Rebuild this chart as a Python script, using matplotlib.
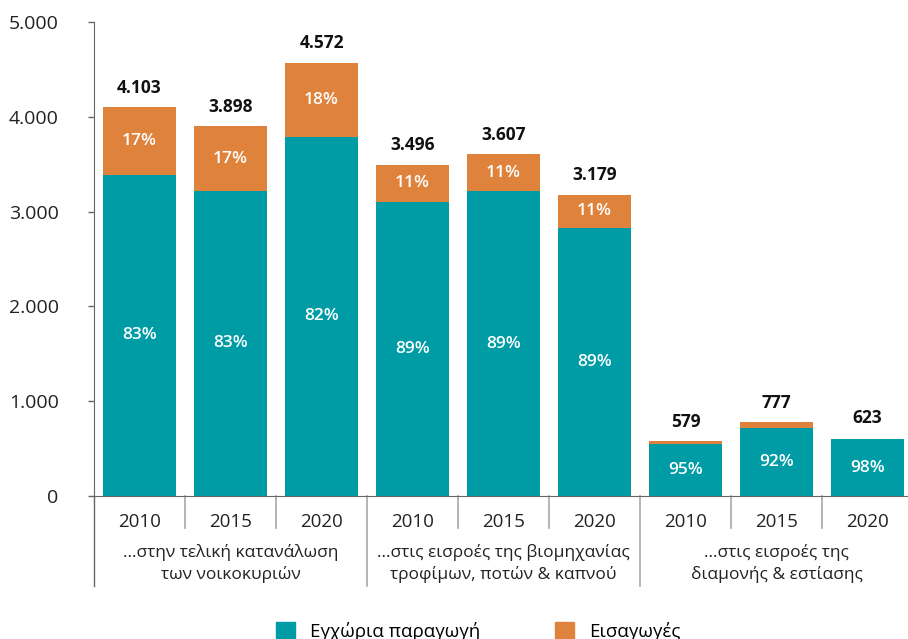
"""Stacked bars: domestic production vs imports, three uses, 2010/2015/2020."""
import matplotlib
matplotlib.use("Agg")
from matplotlib import pyplot as plt
from matplotlib.patches import Patch
import numpy as np

plt.rcParams["font.family"] = ["Open Sans", "DejaVu Sans"]

years = ["2010", "2015", "2020"] * 3
groups = ["...στην τελική κατανάλωση\nτων νοικοκυριών",
          "...στις εισροές της βιομηχανίας\nτροφίμων, ποτών & καπνού",
          "...στις εισροές της\nδιαμονής & εστίασης"]
domestic = [3390, 3220, 3790, 3100, 3215, 2830, 552, 717, 601]
imports = [713, 678, 782, 396, 392, 349, 27, 60, 3]
totals = [4103, 3898, 4572, 3496, 3607, 3179, 579, 777, 623]
dom_pct = ["83%", "83%", "82%", "89%", "89%", "89%", "95%", "92%", "98%"]
imp_pct = ["17%", "17%", "18%", "11%", "11%", "11%", "", "", ""]
legend_labels = ["Εγχώρια παραγωγή", "Εισαγωγές"]

teal = "#009ca6"
orange = "#df823b"
gray = "#666666"
light = "#a8a8a8"

fig = plt.figure(figsize=(9.08, 6.39), dpi=100)
ax = fig.add_axes([94 / 908, 143 / 639, 819 / 908, 474 / 639])

x = np.arange(len(years))
ax.bar(x, domestic, width=0.8, color=teal)
ax.bar(x, imports, width=0.8, bottom=domestic, color=orange)

ax.set_xlim(-0.5, len(years) - 0.5)
ax.set_ylim(0, 5000)
ax.set_yticks(np.arange(0, 5001, 1000))
ax.set_yticklabels([f"{v:,}".replace(",", ".") for v in range(0, 5001, 1000)],
                   fontsize=14, color="#222222")
ax.tick_params(axis="y", length=4.5, width=1, color=gray, pad=21)
ax.set_xticks([])

for s in ["top", "right"]:
    ax.spines[s].set_visible(False)
ax.spines["left"].set_color(gray)
ax.spines["bottom"].set_color(gray)
ax.spines["left"].set_bounds(0, 5000)

# labels inside and above the bars
for i in x:
    ax.text(i, totals[i] + 110, f"{totals[i]:,}".replace(",", "."),
            ha="center", va="bottom", fontsize=12.5, fontweight="bold",
            color="#111111")
    ax.text(i, domestic[i] / 2, dom_pct[i], ha="center", va="center",
            fontsize=12.5, fontweight="semibold", color="white")
    if imp_pct[i]:
        ax.text(i, domestic[i] + imports[i] / 2, imp_pct[i], ha="center",
                va="center", fontsize=12.5, fontweight="semibold",
                color="white")

# category axis: years, separators, group names
trans = ax.get_xaxis_transform()
ax.plot([-0.5, -0.5], [0, -0.19], transform=trans, color=gray, lw=1,
        clip_on=False)
for i in x:
    ax.text(i, -0.055, years[i], transform=trans, ha="center", va="center",
            fontsize=13.5, color="#222222")
    if i > 0:
        low = -0.19 if i % 3 == 0 else -0.068
        ax.plot([i - 0.5, i - 0.5], [0, low], transform=trans, color=light,
                lw=1.2, clip_on=False)
for g, name in enumerate(groups):
    ax.text(3 * g + 1, -0.142, name, transform=trans, ha="center",
            va="center", fontsize=12.5, color="#222222", linespacing=1.4)

handles = [Patch(color=teal), Patch(color=orange)]
fig.legend(handles, legend_labels, loc="center", bbox_to_anchor=(0.527, 0.012),
           ncol=2, frameon=False, fontsize=13.5, handlelength=1.0,
           handleheight=1.0, columnspacing=4.0, handletextpad=0.8)

fig.savefig("out.png", dpi=100)
